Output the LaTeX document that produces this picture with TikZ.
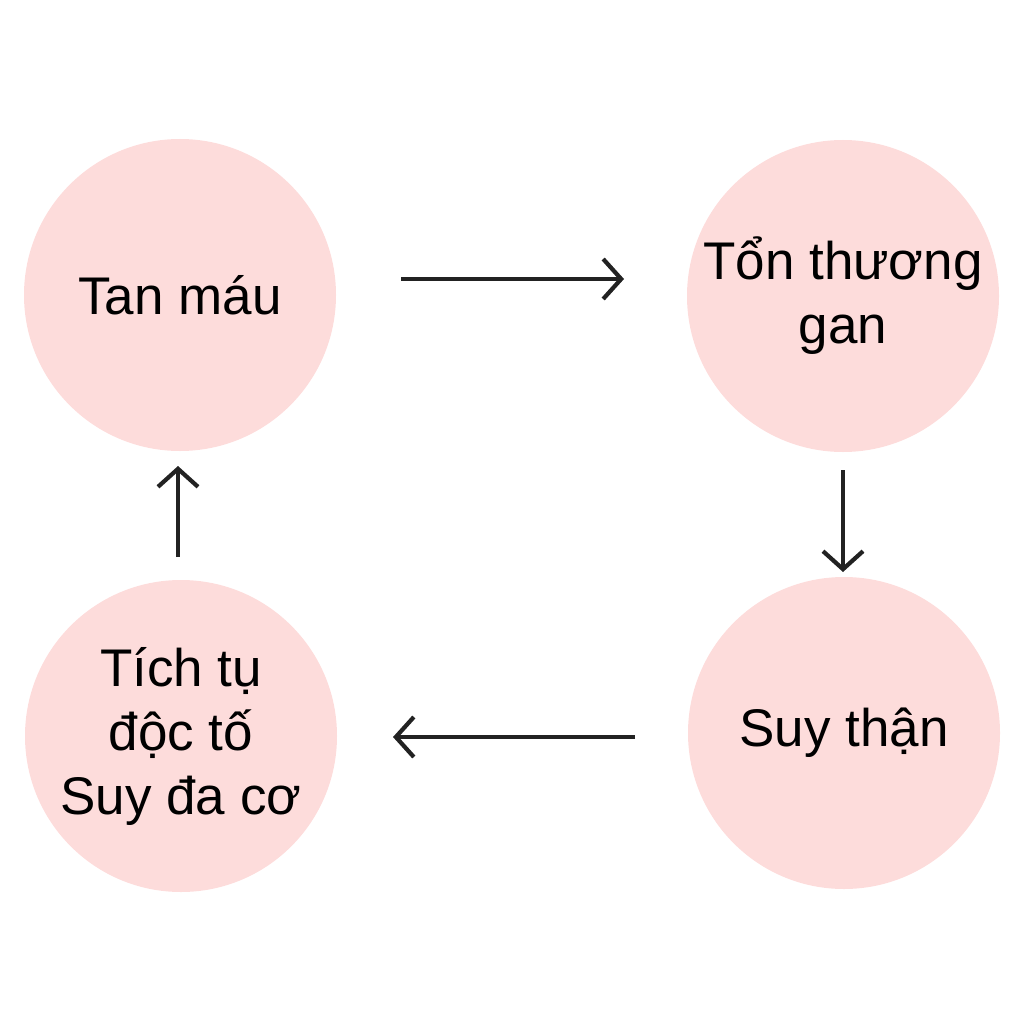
\documentclass[tikz,border=0pt]{standalone}
\usepackage{fontspec}
\setmainfont{Liberation Sans}
\usetikzlibrary{arrows.meta}
\definecolor{pinkfill}{HTML}{FDDCDB}
\definecolor{arrowc}{HTML}{222222}
\begin{document}
\begin{tikzpicture}[x=1pt,y=-1pt,
  bubble/.style={circle,fill=pinkfill,minimum size=312pt,inner sep=0pt,align=center,
    font=\fontsize{53}{64}\selectfont},
  conn/.style={draw=arrowc,line width=4.2pt,-{Straight Barb[length=18pt,width=40pt,line width=4.2pt]}}]
\useasboundingbox (0,0) rectangle (1024,1024);
\node[bubble] (tan) at (180,295) {Tan máu};
\node[bubble] (ton) at (843,296) {Tổn thương\\gan};
\node[bubble] (suy) at (844,733) {Suy thận};
\node[bubble] (tich) at (181,736) {Tích tụ\\độc tố\\Suy đa cơ};
\coordinate (a1) at (401,279); \coordinate (a2) at (624,279);
\coordinate (b1) at (843,470); \coordinate (b2) at (843,572);
\coordinate (c1) at (635,737); \coordinate (c2) at (393,737);
\coordinate (d1) at (178,557); \coordinate (d2) at (178,466);
\draw[conn] (a1) -- (a2);
\draw[conn] (b1) -- (b2);
\draw[conn] (c1) -- (c2);
\draw[conn] (d1) -- (d2);
\end{tikzpicture}
\end{document}
